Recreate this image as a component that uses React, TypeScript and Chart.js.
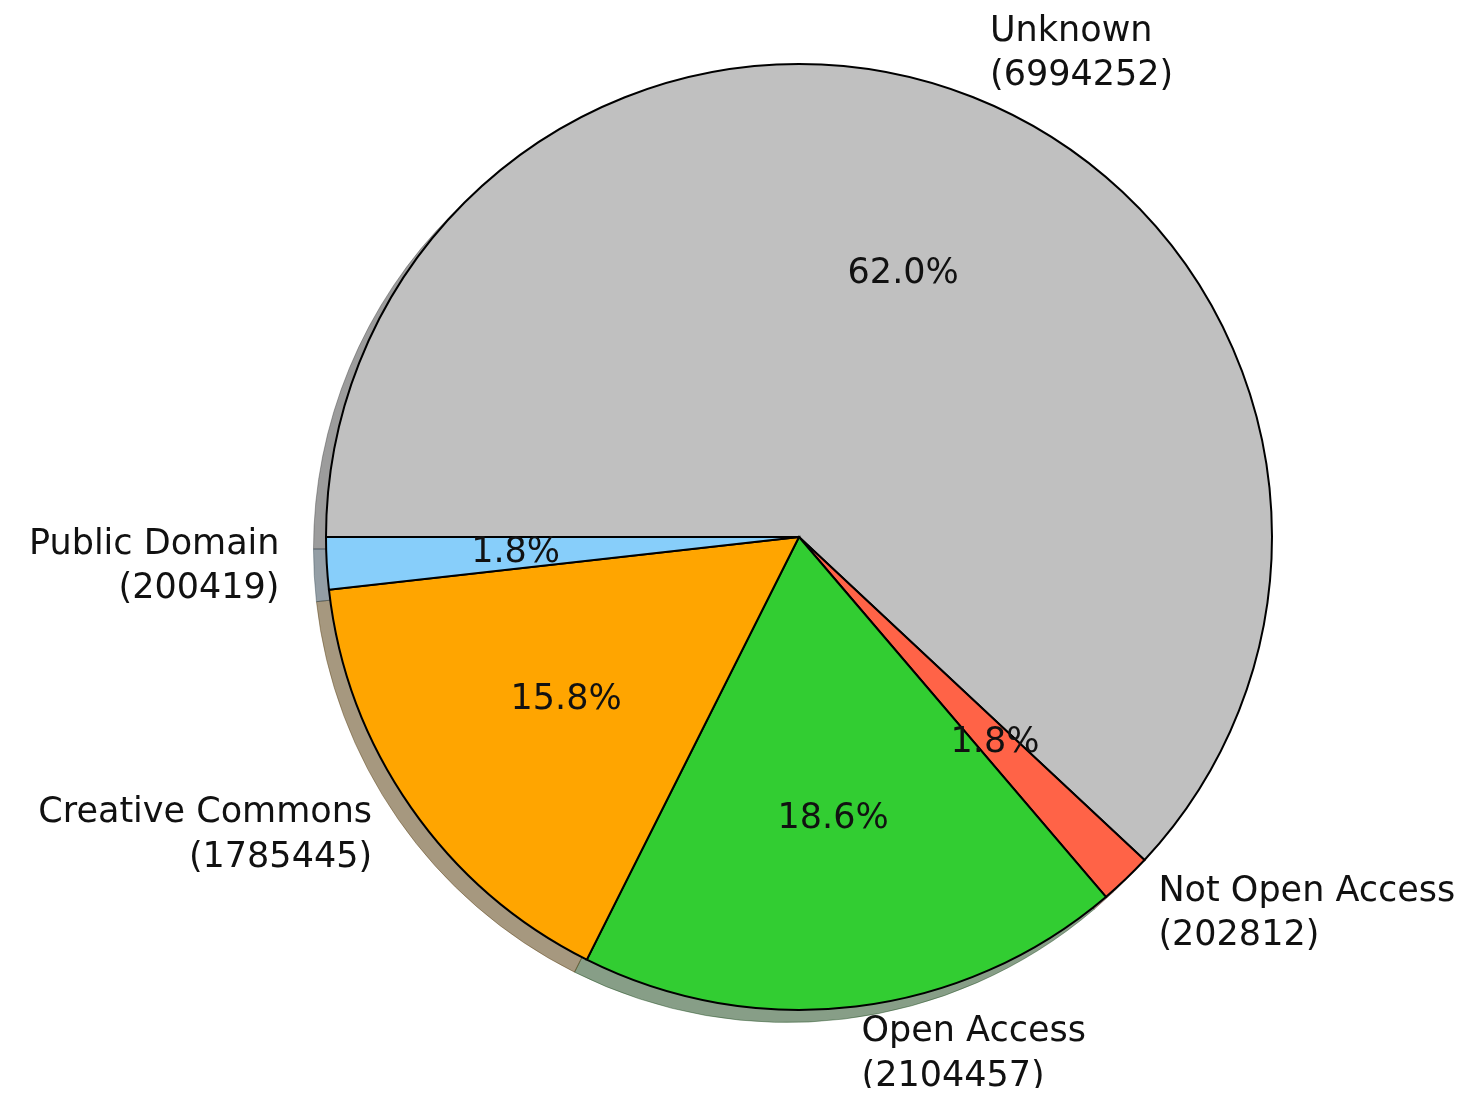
import React, { useEffect, useRef } from "react";
import { Chart, registerables } from "chart.js";

Chart.register(...registerables);

// Data (clockwise on screen, starting at 9 o'clock)
const categories = ["Unknown", "Not Open Access", "Open Access", "Creative Commons", "Public Domain"];
const counts = [6994252, 202812, 2104457, 1785445, 200419];
const sliceColors = ["#C0C0C0", "#FF6347", "#32CD32", "#FFA500", "#87CEFA"];

const FONT = '35px "DejaVu Sans"';
const LINE_H = 44.5;
const SHADOW_DX = -12;
const SHADOW_DY = 12;

function hexToRgb(hex: string): [number, number, number] {
  const h = hex.replace("#", "");
  return [parseInt(h.slice(0, 2), 16), parseInt(h.slice(2, 4), 16), parseInt(h.slice(4, 6), 16)];
}

const shadowPlugin = {
  id: "pieShadow",
  beforeDatasetsDraw(chart: any) {
    const ctx = chart.ctx as CanvasRenderingContext2D;
    const meta = chart.getDatasetMeta(0);
    meta.data.forEach((arc: any, i: number) => {
      const { x, y, startAngle, endAngle, outerRadius } = arc.getProps(
        ["x", "y", "startAngle", "endAngle", "outerRadius"],
        true
      );
      const [r, g, b] = hexToRgb(sliceColors[i]);
      const c = `rgba(${0.3 * r},${0.3 * g},${0.3 * b},0.5)`;
      const cx = x + SHADOW_DX;
      const cy = y + SHADOW_DY;
      ctx.save();
      ctx.beginPath();
      ctx.moveTo(cx, cy);
      ctx.arc(cx, cy, outerRadius + 0.5, startAngle, endAngle);
      ctx.closePath();
      ctx.fillStyle = c;
      ctx.fill();
      ctx.strokeStyle = c;
      ctx.lineWidth = 0.8;
      ctx.lineJoin = "miter";
      ctx.stroke();
      ctx.restore();
    });
  },
};

const labelPlugin = {
  id: "pieLabels",
  afterDatasetsDraw(chart: any) {
    const ctx = chart.ctx as CanvasRenderingContext2D;
    const meta = chart.getDatasetMeta(0);
    const total = counts.reduce((a, b) => a + b, 0);
    ctx.save();
    ctx.font = FONT;
    ctx.fillStyle = "#111111";
    ctx.textBaseline = "alphabetic";
    meta.data.forEach((arc: any, i: number) => {
      const { x, y, startAngle, endAngle, outerRadius } = arc.getProps(
        ["x", "y", "startAngle", "endAngle", "outerRadius"],
        true
      );
      const mid = (startAngle + endAngle) / 2;
      const cos = Math.cos(mid);
      const sin = Math.sin(mid);
      // outer labels
      const lx = x + 1.1 * outerRadius * cos;
      const ly = y + 1.1 * outerRadius * sin;
      const lines = [categories[i], `(${counts[i]})`];
      ctx.textAlign = cos >= 0 ? "left" : "right";
      lines.forEach((t, k) => {
        const by = ly + (k - (lines.length - 1) / 2) * LINE_H + 10;
        ctx.fillText(t, lx, by);
      });
      // percentage
      const px = x + 0.6 * outerRadius * cos;
      const py = y + 0.6 * outerRadius * sin;
      ctx.textAlign = "center";
      const pct = ((counts[i] / total) * 100).toFixed(1) + "%";
      ctx.fillText(pct, px, py + 9.5);
    });
    ctx.restore();
  },
};

export default function App() {
  const canvasRef = useRef<HTMLCanvasElement | null>(null);

  useEffect(() => {
    if (!canvasRef.current) return;
    const chart = new Chart(canvasRef.current, {
      type: "pie",
      data: {
        labels: categories,
        datasets: [
          {
            data: counts,
            backgroundColor: sliceColors,
            borderColor: "#000000",
            borderWidth: 2,
            borderJoinStyle: "miter",
          },
        ],
      },
      options: {
        animation: false,
        responsive: true,
        maintainAspectRatio: false,
        events: [],
        rotation: -90,
        radius: 473,
        layout: { padding: { left: 317, right: 194, top: 55, bottom: 77 } },
        plugins: {
          legend: { display: false },
          tooltip: { enabled: false },
        },
      },
      plugins: [shadowPlugin, labelPlugin],
    } as any);
    return () => chart.destroy();
  }, []);

  return (
    <div style={{ width: 1459, height: 1080, position: "relative" }}>
      <canvas ref={canvasRef} />
    </div>
  );
}
